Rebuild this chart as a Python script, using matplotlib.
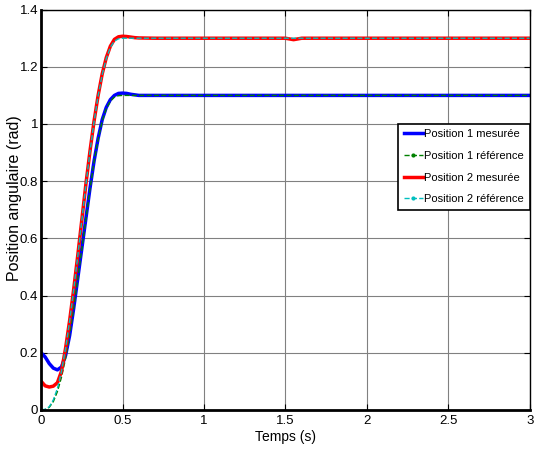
import numpy as np
import matplotlib.pyplot as plt
from matplotlib.lines import Line2D

# Temps (s)
t = [0, 0.025, 0.05, 0.075, 0.1, 0.125, 0.15, 0.175, 0.2, 0.225, 0.25,
     0.275, 0.3, 0.325, 0.35, 0.375, 0.4, 0.425, 0.45, 0.475, 0.5,
     0.525, 0.55, 0.575, 0.6, 0.7, 1.0, 1.5, 1.53, 1.55, 1.57, 1.6, 2.0, 3.0]

pos1_mes = [0.2, 0.185, 0.162, 0.146, 0.14, 0.15, 0.19, 0.26, 0.355, 0.46, 0.565,
            0.67, 0.775, 0.87, 0.95, 1.015, 1.058, 1.085, 1.1, 1.107, 1.108,
            1.107, 1.104, 1.102, 1.1, 1.1, 1.1, 1.1, 1.1, 1.1, 1.1, 1.1, 1.1, 1.1]
pos1_ref = [0, 0.001, 0.009, 0.029, 0.064, 0.114, 0.179, 0.262, 0.355, 0.458, 0.563,
            0.668, 0.772, 0.867, 0.946, 1.01, 1.053, 1.08, 1.094, 1.099, 1.1,
            1.1, 1.1, 1.1, 1.1, 1.1, 1.1, 1.1, 1.1, 1.1, 1.1, 1.1, 1.1, 1.1]
pos2_mes = [0.1, 0.084, 0.08, 0.083, 0.095, 0.135, 0.215, 0.312, 0.422, 0.54, 0.665,
            0.79, 0.905, 1.01, 1.1, 1.175, 1.232, 1.272, 1.296, 1.305, 1.307,
            1.306, 1.304, 1.302, 1.301, 1.3, 1.3, 1.3, 1.297, 1.295, 1.297, 1.3, 1.3, 1.3]
pos2_ref = [0, 0.002, 0.011, 0.035, 0.075, 0.135, 0.214, 0.311, 0.42, 0.538, 0.663,
            0.788, 0.903, 1.008, 1.098, 1.172, 1.229, 1.268, 1.29, 1.298, 1.3,
            1.3, 1.3, 1.3, 1.3, 1.3, 1.3, 1.3, 1.3, 1.3, 1.3, 1.3, 1.3, 1.3]

labels = ['Position 1 mesurée', 'Position 1 référence',
          'Position 2 mesurée', 'Position 2 référence']

plt.rcParams['font.family'] = ['Liberation Sans', 'DejaVu Sans']

fig = plt.figure(figsize=(5.34, 4.59), dpi=100)
ax = fig.add_axes([0.077, 0.107, 0.915, 0.872])

c_blue, c_green, c_red, c_cyan = '#0000ff', '#008000', '#ff0000', '#00bfbf'

ax.plot(t, pos1_mes, color=c_blue, lw=2.5)
ax.plot(t, pos1_ref, color=c_green, lw=1, ls='--')
ax.plot(t, pos2_mes, color=c_red, lw=2.5)
ax.plot(t, pos2_ref, color=c_cyan, lw=1, ls='--')

ax.set_xlim(0, 3)
ax.set_ylim(0, 1.4)
ax.set_xticks([0, 0.5, 1, 1.5, 2, 2.5, 3])
ax.set_xticklabels(['0', '0.5', '1', '1.5', '2', '2.5', '3'])
ax.set_yticks(np.arange(0, 1.41, 0.2))
ax.set_yticklabels(['0', '0.2', '0.4', '0.6', '0.8', '1', '1.2', '1.4'])
ax.grid(True, color='#808080', lw=0.8)
ax.tick_params(direction='in', top=True, right=True, labelsize=9.5, length=4)
ax.tick_params(axis='y', pad=2)
for s in ['left', 'bottom']:
    ax.spines[s].set_linewidth(2)
for s in ['top', 'right']:
    ax.spines[s].set_linewidth(1)

ax.set_xlabel('Temps (s)', fontsize=10, labelpad=2)
ax.set_ylabel('Position angulaire (rad)', fontsize=11.5)
ax.yaxis.set_label_coords(-0.04, 0.53)

handles = [Line2D([], [], color=c_blue, lw=2.5),
           Line2D([], [], color=c_green, lw=1, ls='--', marker='.', markersize=4),
           Line2D([], [], color=c_red, lw=2.5),
           Line2D([], [], color=c_cyan, lw=1, ls='--', marker='.', markersize=4)]
leg = ax.legend(handles, labels, loc='upper right', bbox_to_anchor=(1.0, 0.715),
                fontsize=8, fancybox=False, framealpha=1, edgecolor='black',
                handlelength=1.7, handletextpad=0.15, borderpad=0.5,
                labelspacing=1.05, borderaxespad=0)
leg.get_frame().set_linewidth(1.2)

fig.savefig('out.png', dpi=100)
